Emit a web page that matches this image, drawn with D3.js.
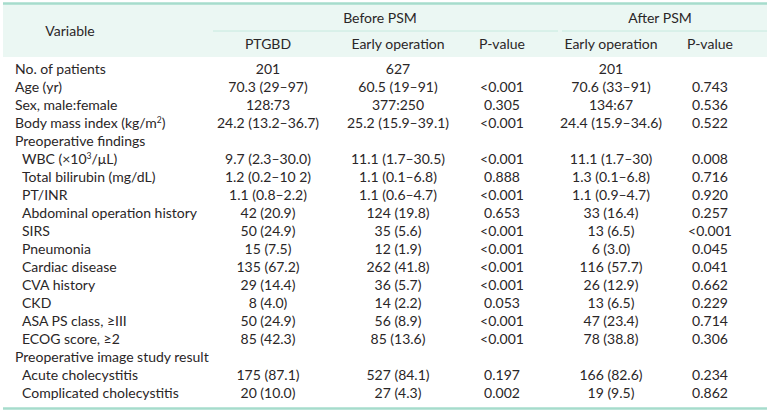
<!DOCTYPE html>
<html>
<head>
<meta charset="utf-8">
<script src="https://cdn.jsdelivr.net/npm/d3@7"></script>
<style>
  html, body { margin: 0; padding: 0; background: #ffffff; }
  svg { display: block; }
  text { font-family: "Lato", "Open Sans", sans-serif; fill: #2a2627; }
</style>
</head>
<body>
<svg id="chart" width="772" height="413"></svg>
<script>
// ---- data ----
const groupHeaders = ["Before PSM", "After PSM"];
const columnHeaders = ["PTGBD", "Early operation", "P-value", "Early operation", "P-value"];
const variables = [
  "No. of patients", "Age (yr)", "Sex, male:female", "Body mass index (kg/m^2)",
  "Preoperative findings", "WBC (×10^3/μL)", "Total bilirubin (mg/dL)", "PT/INR",
  "Abdominal operation history", "SIRS", "Pneumonia", "Cardiac disease", "CVA history",
  "CKD", "ASA PS class, ≥III", "ECOG score, ≥2", "Preoperative image study result",
  "Acute cholecystitis", "Complicated cholecystitis"
];
const indentLevel = [0,0,0,0,0,1,1,1,1,1,1,1,1,1,1,1,0,1,1];
const ptgbd = ["201","70.3 (29–97)","128:73","24.2 (13.2–36.7)","","9.7 (2.3–30.0)","1.2 (0.2–10 2)","1.1 (0.8–2.2)","42 (20.9)","50 (24.9)","15 (7.5)","135 (67.2)","29 (14.4)","8 (4.0)","50 (24.9)","85 (42.3)","","175 (87.1)","20 (10.0)"];
const earlyBefore = ["627","60.5 (19–91)","377:250","25.2 (15.9–39.1)","","11.1 (1.7–30.5)","1.1 (0.1–6.8)","1.1 (0.6–4.7)","124 (19.8)","35 (5.6)","12 (1.9)","262 (41.8)","36 (5.7)","14 (2.2)","56 (8.9)","85 (13.6)","","527 (84.1)","27 (4.3)"];
const pBefore = ["","<0.001","0.305","<0.001","","<0.001","0.888","<0.001","0.653","<0.001","<0.001","<0.001","<0.001","0.053","<0.001","<0.001","","0.197","0.002"];
const earlyAfter = ["201","70.6 (33–91)","134:67","24.4 (15.9–34.6)","","11.1 (1.7–30)","1.3 (0.1–6.8)","1.1 (0.9–4.7)","33 (16.4)","13 (6.5)","6 (3.0)","116 (57.7)","26 (12.9)","13 (6.5)","47 (23.4)","78 (38.8)","","166 (82.6)","19 (9.5)"];
const pAfter = ["","0.743","0.536","0.522","","0.008","0.716","0.920","0.257","<0.001","0.045","0.041","0.662","0.229","0.714","0.306","","0.234","0.862"];

// ---- layout ----
const svg = d3.select("#chart");
const left = 3, right = 767;
const topBorder = 3.5, headerBottom = 57, bodyBottom = 408.5;
const mint = "#a6dccc", headBg = "#ebf7f3";

const colKeys = ["var","ptgbd","earlyBefore","pBefore","earlyAfter","pAfter"];
const colCenter = d3.scaleOrdinal().domain(colKeys).range([70, 268, 398, 502, 611, 710]);
const columns = [ptgbd, earlyBefore, pBefore, earlyAfter, pAfter];

const y = d3.scaleBand().domain(d3.range(variables.length))
  .range([60.5, 402]).paddingInner(0);

const fs = 14;

// header background
svg.append("rect").attr("x", left).attr("y", topBorder).attr("width", right - left)
  .attr("height", headerBottom - topBorder).attr("fill", headBg);
// top border
svg.append("line").attr("x1", left).attr("x2", right).attr("y1", topBorder).attr("y2", topBorder)
  .attr("stroke", mint).attr("stroke-width", 2.5);
// bottom border
svg.append("line").attr("x1", left).attr("x2", right).attr("y1", bodyBottom).attr("y2", bodyBottom)
  .attr("stroke", mint).attr("stroke-width", 2.5);
// group sublines
const groupSpans = [[213, 558], [562, right]];
svg.selectAll(".gline").data(groupSpans).join("line")
  .attr("x1", d => d[0]).attr("x2", d => d[1]).attr("y1", 31).attr("y2", 31)
  .attr("stroke", "#c6eadf").attr("stroke-width", 1);

// header texts
svg.append("text").attr("x", colCenter("var")).attr("y", 31).attr("dy", "0.35em")
  .attr("text-anchor", "middle").attr("font-size", fs).text("Variable");
const groupCenters = [380, 660];
svg.selectAll(".gh").data(groupHeaders).join("text")
  .attr("x", (d, i) => groupCenters[i]).attr("y", 18).attr("dy", "0.35em")
  .attr("text-anchor", "middle").attr("font-size", fs).text(d => d);
svg.selectAll(".ch").data(columnHeaders).join("text")
  .attr("x", (d, i) => colCenter(colKeys[i + 1])).attr("y", 44).attr("dy", "0.35em")
  .attr("text-anchor", "middle").attr("font-size", fs).text(d => d);

// variable labels with superscripts
const labels = svg.selectAll(".lab").data(variables).join("text")
  .attr("x", (d, i) => indentLevel[i] ? 22 : 15)
  .attr("y", (d, i) => y(i) + y.bandwidth() / 2).attr("dy", "0.35em")
  .attr("font-size", fs);
labels.each(function(d) {
  const t = d3.select(this);
  const parts = d.split(/\^(\d)/);
  let lower = false;
  parts.forEach((p, k) => {
    if (!p) return;
    if (k % 2 === 1) {
      t.append("tspan").attr("font-size", 8.5).attr("dy", -5).text(p);
      lower = true;
    } else {
      const s = t.append("tspan").text(p);
      if (lower) { s.attr("dy", 5); lower = false; }
    }
  });
});

// values
columns.forEach((col, ci) => {
  svg.selectAll(".c" + ci).data(col).join("text")
    .attr("x", colCenter(colKeys[ci + 1]))
    .attr("y", (d, i) => y(i) + y.bandwidth() / 2).attr("dy", "0.35em")
    .attr("text-anchor", "middle").attr("font-size", fs).text(d => d);
});
</script>
</body>
</html>
